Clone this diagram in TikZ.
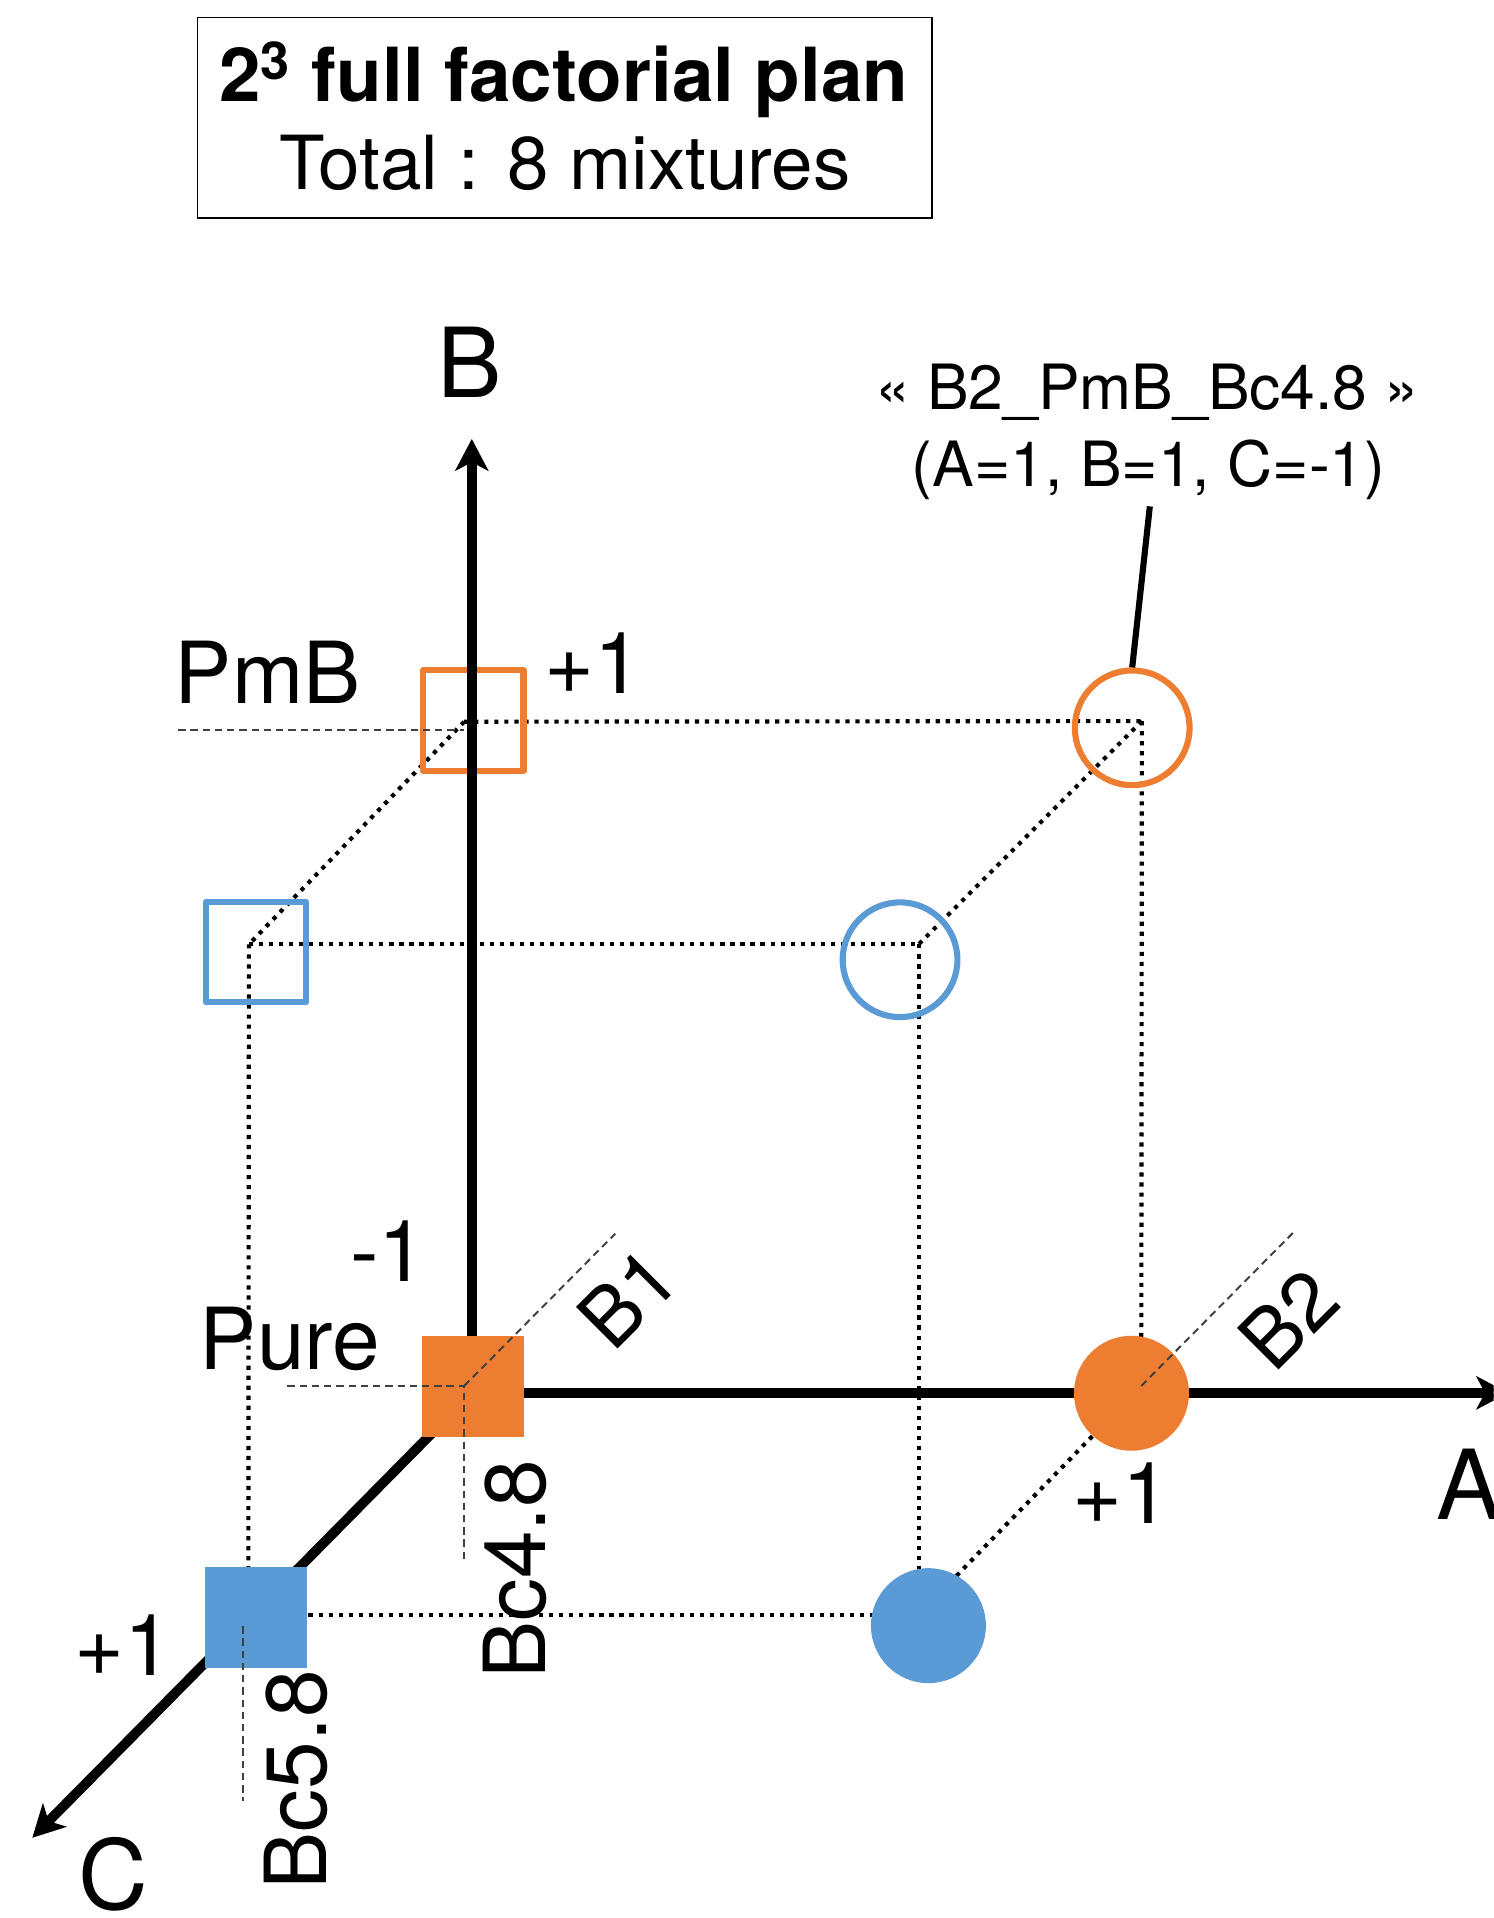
\documentclass[tikz,border=0pt]{standalone}
\usepackage{fontspec}
\setmainfont{TeX Gyre Heros}
\usetikzlibrary{arrows.meta}
\definecolor{xorange}{HTML}{ED7D31}
\definecolor{xblue}{HTML}{5B9BD5}
\begin{document}
\begin{tikzpicture}[x=0.5pt,y=-0.5pt,
  lbl/.style={inner sep=0pt, outer sep=0pt, font=\fontsize{35pt}{40pt}\selectfont},
  lbltwo/.style={inner sep=0pt, outer sep=0pt, font=\fontsize{33pt}{38pt}\selectfont},
  axlbl/.style={inner sep=0pt, outer sep=0pt, font=\fontsize{39.5pt}{44pt}\selectfont},
  annlbl/.style={inner sep=0pt, outer sep=0pt, font=\fontsize{25.5pt}{30pt}\selectfont},
  titlelbl/.style={inner sep=0pt, outer sep=0pt, font=\fontsize{30.5pt}{36pt}\selectfont},
  axisline/.style={line width=4pt, -{Stealth[length=13pt,width=13.5pt,inset=3.5pt]}},
  cubeedge/.style={line width=1.7pt, dash pattern=on 1.7pt off 2.4pt},
  guide/.style={line width=0.8pt, black!75, dash pattern=on 3pt off 2pt},
  fillsq/.style={rectangle, minimum size=41.5pt, inner sep=0pt, draw=none},
  fillci/.style={circle, minimum size=47pt, inner sep=0pt, draw=none},
  opensq/.style={rectangle, minimum size=41pt, inner sep=0pt, line width=2.5pt, line join=round, fill=none},
  openci/.style={circle, minimum size=46.9pt, inner sep=0pt, line width=2.5pt, fill=none},
]
\useasboundingbox (0,0) rectangle (1221,1568);
\clip (0,0) rectangle (1221,1568);

% title
\node[draw, line width=0.6pt, minimum width=300.35pt, minimum height=82.1pt, inner sep=0pt] (tbox) at (461.65,96.3) {};
\node[titlelbl, anchor=base, font=\bfseries\fontsize{30.5pt}{36pt}\selectfont] (t1) at (461,83) {2\textsuperscript{3} full factorial plan};
\node[titlelbl, anchor=base] (t2) at (462,155.3) {Total : 8 mixtures};

% cube corners
\coordinate (p010) at (379.5,590);
\coordinate (p110) at (933.5,589.5);
\coordinate (p011) at (203.5,772);
\coordinate (p111) at (751,772);
\coordinate (p001) at (203,1320);
\coordinate (p101) at (751,1320);
\coordinate (p100) at (933,1133);
\coordinate (p000) at (379.5,1133);

% axes end points
\coordinate (O) at (385.7,1138.7);
\coordinate (Btip) at (385.7,358.8);
\coordinate (Atip) at (1233,1138.7);
\coordinate (Ctip) at (26.4,1502.4);

% dotted cube edges
\draw[cubeedge] (p010) -- (p110);
\draw[cubeedge] (p010) -- (p011);
\draw[cubeedge] (p110) -- (p111);
\draw[cubeedge] (p011) -- (p111);
\draw[cubeedge] (p011) -- (p001);
\draw[cubeedge] (p111) -- (p101);
\draw[cubeedge] (p110) -- (p100);
\draw[cubeedge] (p001) -- (p101);
\draw[cubeedge] (p100) -- (p101);

% open markers (B = +1)
\node[opensq, draw=xorange] (osq) at (387,589) {};
\node[opensq, draw=xblue] (bsq) at (209.3,778.4) {};
\node[openci, draw=xorange] (oc) at (925.6,595) {};
\node[openci, draw=xblue] (bc) at (735.8,784.6) {};

% axes
\draw[axisline] (O) -- (Btip);
\draw[axisline] (O) -- (Atip);
\draw[axisline] (O) -- (Ctip);

% filled markers (B = -1)
\node[fillsq, fill=xorange] (fosq) at (386.5,1133.5) {};
\node[fillsq, fill=xblue] (fbsq) at (209.3,1322.5) {};
\node[fillci, fill=xorange] (foc) at (925,1139) {};
\node[fillci, fill=xblue] (fbc) at (759,1329) {};

% dashed guides
\coordinate (gpmb) at (145.7,597);
\coordinate (gpmbe) at (379.5,597);
\coordinate (gpure) at (235,1133);
\coordinate (gbc48) at (379.5,1276);
\coordinate (gb1) at (503,1008.5);
\coordinate (gb2) at (1056.9,1008);
\coordinate (gbc58a) at (198.8,1329.4);
\coordinate (gbc58b) at (198.8,1472.4);
\draw[guide] (gpmb) -- (gpmbe);
\draw[guide] (gpure) -- (p000) -- (gbc48);
\draw[guide] (p000) -- (gb1);
\draw[guide] (p100) -- (gb2);
\draw[guide] (gbc58a) -- (gbc58b);

% labels
\node[axlbl, anchor=base west] (lb) at (357.5,324.7) {B};
\node[axlbl, anchor=base west] (la) at (1174,1242.3) {A};
\node[axlbl, anchor=base west] (lc) at (64.5,1561) {C};
\node[lbl, anchor=base west] (pmb) at (143,574.8) {PmB};
\node[lbl, anchor=base west] (ptop) at (445.3,566.6) {+1};
\node[lbl, anchor=base west] (pure) at (163.5,1119.7) {Pure};
\node[lbl, anchor=base west] (mone) at (286.3,1048) {-1};
\node[lbl, anchor=base west] (pbot) at (876.7,1245.5) {+1};
\node[lbl, anchor=base west] (pleft) at (61.3,1370) {+1};
\node[lbl, rotate=90, anchor=base west] (bc48) at (446,1372.5) {Bc4.8};
\node[lbl, rotate=90, anchor=base west] (bc58) at (267,1544.5) {Bc5.8};
\node[lbltwo, rotate=45] (b1) at (513,1061) {B1};
\node[lbltwo, rotate=45] (b2) at (1053.5,1078) {B2};

% annotation
\node[annlbl, anchor=base] (ann1) at (938,335) {« B2\_PmB\_Bc4.8 »};
\node[annlbl, anchor=base] (ann2) at (939,397.7) {(A=1, B=1, C=-1)};
\coordinate (ptr) at (940,414);
\draw[line width=2.5pt] (ptr) -- (oc.north);
\end{tikzpicture}
\end{document}
